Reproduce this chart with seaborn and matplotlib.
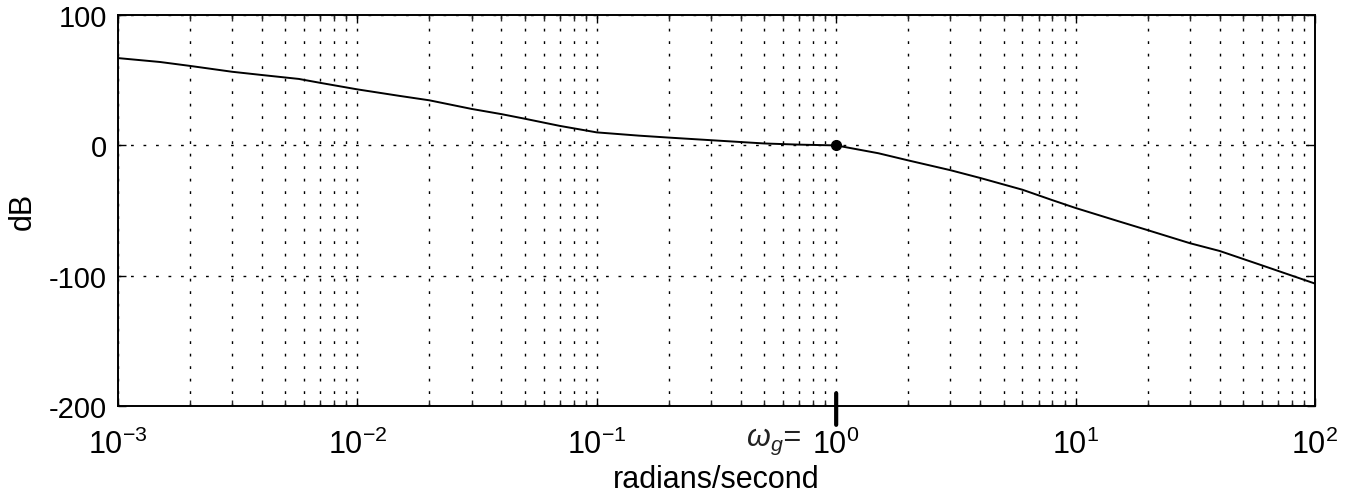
import matplotlib
matplotlib.use("Agg")
import matplotlib.pyplot as plt
import seaborn as sns
import pandas as pd
from matplotlib.ticker import LogLocator, NullFormatter

freq = [0.001, 0.0015, 0.002, 0.003, 0.004, 0.0057, 0.007, 0.01, 0.015, 0.02,
        0.03, 0.04, 0.05, 0.07, 0.1, 0.15, 0.2, 0.3, 0.5, 0.7, 1.0,
        1.5, 2.0, 3.0, 4.0, 6.0, 8.0, 10.0, 15.0, 20.0, 30.0, 40.0, 60.0, 100.0]
mag_db = [67, 64, 61, 56.5, 54, 51, 48, 43, 38, 34.6,
          28, 24, 20.5, 15, 10, 7.5, 6, 4, 1.5, 0.6, 0,
          -6, -11.5, -19, -25, -34, -42, -48, -58, -65, -75, -81, -92, -106]
y_ticks = [-200, -100, 0, 100]
x_label = "radians/second"
y_label = "dB"
annot_text = "ω$_g$="

df = pd.DataFrame({"freq": freq, "mag": mag_db})

sns.set_theme(style="white")
plt.rcParams['font.family'] = ['Liberation Sans', 'DejaVu Sans']
plt.rcParams['mathtext.fontset'] = 'custom'
plt.rcParams['mathtext.rm'] = 'Liberation Sans'
plt.rcParams['mathtext.it'] = 'Liberation Sans:italic'
plt.rcParams['axes.unicode_minus'] = False

fig = plt.figure(figsize=(13.55, 5.02), dpi=100)
ax = fig.add_axes([0.087, 0.189, 0.8835, 0.779])

sns.lineplot(data=df, x="freq", y="mag", ax=ax, color="black", linewidth=1.4,
             estimator=None, sort=False)
ax.set_xscale("log")
ax.set_xlim(1e-3, 1e2)
ax.set_ylim(-200, 100)
ax.set_yticks(y_ticks)
ax.xaxis.set_major_locator(LogLocator(base=10, numticks=10))
ax.xaxis.set_minor_locator(LogLocator(base=10, subs=range(2, 10), numticks=100))
ax.xaxis.set_minor_formatter(NullFormatter())

ax.grid(True, which="major", axis="both", color="black", linestyle=(0, (2, 7)), linewidth=1.0)
ax.grid(True, which="minor", axis="x", color="black", linestyle=(0, (2, 7)), linewidth=1.0)

ax.tick_params(axis="both", which="major", direction="in", length=6, width=1,
               colors="black", bottom=True, left=True, top=True, right=True)
ax.tick_params(axis="x", which="major", labelsize=22, pad=16)
ax.tick_params(axis="y", which="major", labelsize=21, pad=8)
ax.tick_params(axis="x", which="minor", direction="in", length=4, width=1,
               bottom=True, top=True)
for s in ax.spines.values():
    s.set_color("black")
    s.set_linewidth(1.4)

ax.set_xlabel(x_label, fontsize=22, color="black", labelpad=3)
ax.set_ylabel(y_label, fontsize=22, color="black", labelpad=8)

# handwritten annotation near crossover
ax.plot([1.0], [0], marker="o", color="black", markersize=7)
ax.annotate(annot_text, xy=(0.72, -0.09), xycoords=("data", "axes fraction"),
            fontsize=22, style="italic", color="#222222", ha="right", va="center",
            annotation_clip=False)
ax.annotate("", xy=(1.0, -0.055), xytext=(1.0, 0.04), xycoords=("data", "axes fraction"),
            arrowprops=dict(arrowstyle="-", color="black", linewidth=3),
            annotation_clip=False)

fig.savefig("out.png", dpi=100)
